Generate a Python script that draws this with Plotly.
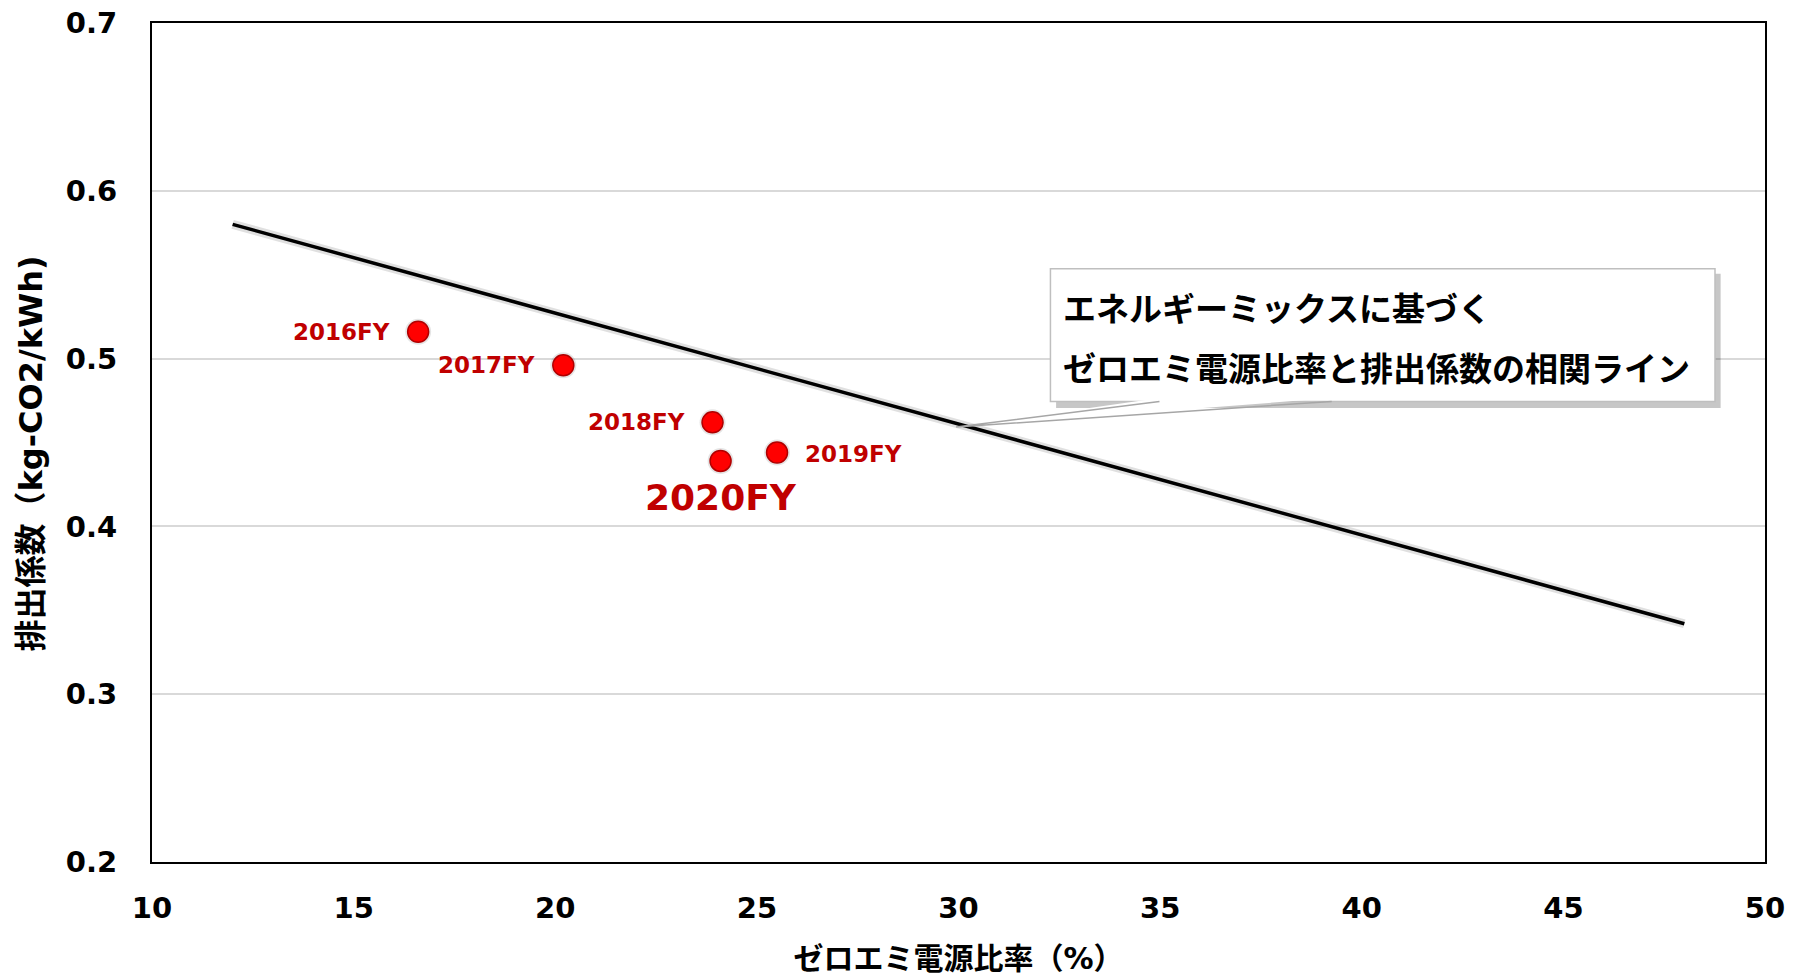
import plotly.graph_objects as go

# ---- data ----
years = ["2016FY", "2017FY", "2018FY", "2019FY", "2020FY"]
zero_emi_ratio = [16.6, 20.2, 23.9, 25.5, 24.1]      # %
emission_factor = [0.516, 0.496, 0.462, 0.444, 0.439]  # kg-CO2/kWh

trend_x = [12, 48]
trend_y = [0.580, 0.342]

x_ticks = [10, 15, 20, 25, 30, 35, 40, 45, 50]
y_ticks = [0.2, 0.3, 0.4, 0.5, 0.6, 0.7]

callout_lines = ["エネルギーミックスに基づく", "ゼロエミ電源比率と排出係数の相関ライン"]
y_title = "排出係数（kg-CO2/kWh)"
x_title = "ゼロエミ電源比率（%）"

# ---- label styling (pixel offsets / sizes, not data) ----
label_xanchor = ["right", "right", "right", "left", "center"]
label_xshift = [-26, -26, -26, 26, 0]
label_yshift = [0, 0, 0, -1, -37]
label_size = [23, 23, 23, 23, 36]

RED_TXT = "#C00000"
LATIN = "DejaVu Sans, Noto Sans CJK JP, sans-serif"
CJK = "Noto Sans CJK JP, sans-serif"

fig = go.Figure()

# shadow of trend line (subtle)
fig.add_trace(go.Scatter(
    x=trend_x, y=trend_y, mode="lines",
    line=dict(color="rgba(0,0,0,0.12)", width=9),
    hoverinfo="skip", showlegend=False))
fig.add_trace(go.Scatter(
    x=trend_x, y=trend_y, mode="lines",
    line=dict(color="black", width=3.5),
    hoverinfo="skip", showlegend=False))

# marker shadow halo
fig.add_trace(go.Scatter(
    x=zero_emi_ratio, y=emission_factor, mode="markers",
    marker=dict(size=26, color="rgba(0,0,0,0.10)", line=dict(width=0)),
    hoverinfo="skip", showlegend=False))
fig.add_trace(go.Scatter(
    x=zero_emi_ratio, y=emission_factor, mode="markers",
    marker=dict(size=21, color="#FF0000", line=dict(color="#B00000", width=1.5)),
    showlegend=False))

annotations = []
for xv, yv, txt, xa, xs, ys, sz in zip(zero_emi_ratio, emission_factor, years,
                                        label_xanchor, label_xshift, label_yshift, label_size):
    annotations.append(dict(
        x=xv, y=yv, xref="x", yref="y", text=txt, showarrow=False,
        xanchor=xa, yanchor="middle", xshift=xs, yshift=ys,
        font=dict(family=LATIN, size=sz, color=RED_TXT, weight="bold")))

# callout text
callout_y = [0.662, 0.590]
for line, yp in zip(callout_lines, callout_y):
    annotations.append(dict(
        x=0.5636, y=yp, xref="paper", yref="paper", text=line, showarrow=False,
        xanchor="left", yanchor="middle",
        font=dict(family=CJK, size=33, color="black", weight="bold")))

# y-axis title (as annotation for exact placement)
annotations.append(dict(
    x=-0.075, y=0.487, xref="paper", yref="paper", text=y_title, showarrow=False,
    textangle=-90, xanchor="center", yanchor="middle",
    font=dict(family=LATIN, size=32, color="black", weight="bold")))

shapes = []
# callout box shadow
shapes.append(dict(type="rect", xref="paper", yref="paper",
                   x0=0.5605, x1=0.9725, y0=0.541, y1=0.701,
                   fillcolor="rgba(0,0,0,0.22)", line=dict(width=0), layer="above"))
# callout box
shapes.append(dict(type="rect", xref="paper", yref="paper",
                   x0=0.557, x1=0.969, y0=0.549, y1=0.707,
                   fillcolor="white", line=dict(color="#BFBFBF", width=1.5), layer="above"))
# wedge pointer
shapes.append(dict(type="path", xref="paper", yref="paper",
                   path="M 0.6246 0.553 L 0.4985 0.5185 L 0.7314 0.553 Z",
                   fillcolor="white", line=dict(color="white", width=0), layer="above"))
shapes.append(dict(type="path", xref="paper", yref="paper",
                   path="M 0.6246 0.549 L 0.4985 0.5185 L 0.7314 0.549",
                   line=dict(color="#A6A6A6", width=1.5), layer="above"))

fig.update_layout(
    width=1800, height=976,
    margin=dict(l=152, r=35, t=23, b=114, autoexpand=False),
    paper_bgcolor="white", plot_bgcolor="white",
    annotations=annotations, shapes=shapes,
    xaxis=dict(
        range=[10, 50], tickvals=x_ticks, ticktext=[str(v) for v in x_ticks],
        showgrid=False, zeroline=False, automargin=False,
        showline=True, linecolor="black", linewidth=2, mirror=True,
        ticks="", ticklabelstandoff=19,
        tickfont=dict(family=LATIN, size=29, color="black", weight="bold"),
        title=dict(text=x_title, standoff=35,
                   font=dict(family=LATIN, size=30, color="black", weight="bold")),
    ),
    yaxis=dict(
        range=[0.2, 0.7], tickvals=y_ticks, ticktext=[f"{v:.1f}" for v in y_ticks],
        showgrid=True, gridcolor="#D9D9D9", gridwidth=2, zeroline=False, automargin=False,
        showline=True, linecolor="black", linewidth=2, mirror=True,
        ticks="", ticklabelstandoff=27,
        tickfont=dict(family=LATIN, size=29, color="black", weight="bold"),
    ),
)

fig.write_html("out.html", config={"displayModeBar": False},
               post_script="document.body.style.margin='0px';")
